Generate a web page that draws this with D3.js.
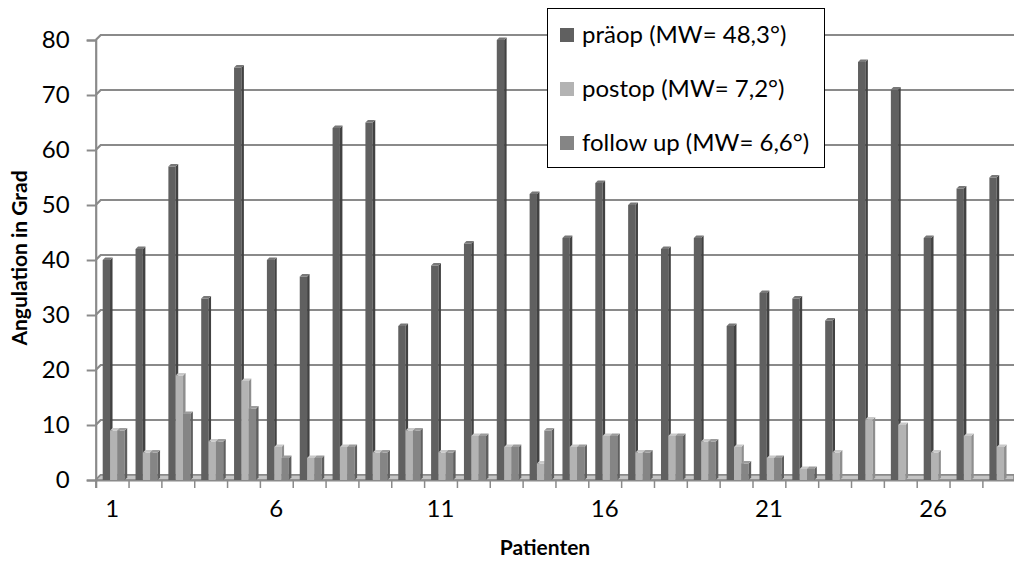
<!DOCTYPE html>
<html>
<head>
<meta charset="utf-8">
<script src="https://cdn.jsdelivr.net/npm/d3@7"></script>
<style>
  body { margin: 0; background: #fff; }
  svg { display: block; font-family: Lato, "Open Sans", sans-serif; }
</style>
</head>
<body>
<svg id="chart" width="1014" height="561"></svg>
<script>
// data (angle in degrees per patient)
const patients = d3.range(1, 29);
const praeop   = [40, 42, 57, 33, 75, 40, 37, 64, 65, 28, 39, 43, 80, 52, 44, 54, 50, 42, 44, 28, 34, 33, 29, 76, 71, 44, 53, 55];
const postop   = [9, 5, 19, 7, 18, 6, 4, 6, 5, 9, 5, 8, 6, 3, 6, 8, 5, 8, 7, 6, 4, 2, 5, 11, 10, 5, 8, 6];
const followUp = [9, 5, 12, 7, 13, 4, 4, 6, 5, 9, 5, 8, 6, 9, 6, 8, 5, 8, 7, 3, 4, 2, null, null, null, null, null, null];
const seriesNames = ["präop (MW= 48,3°)", "postop (MW= 7,2°)", "follow up (MW= 6,6°)"];
const yTicks = [0, 10, 20, 30, 40, 50, 60, 70, 80];
const xLabels = [1, 6, 11, 16, 21, 26];

const series = [praeop, postop, followUp];
// front, side, top colours for each series
const colors = [
  ["#606060", "#424242", "#787878"],
  ["#b3b3b3", "#8e8e8e", "#c9c9c9"],
  ["#858585", "#5f5f5f", "#9c9c9c"]
];

const svg = d3.select("#chart");
const left = 95.7, step = 32.84;
const depth = 5;       // offset of the back wall
const bd = 2.5;        // depth of a bar

let y = d3.scaleLinear().domain([0, 80]).range([480, 40]);
let xLin = d3.scaleLinear().domain([0, 28]).range([left, left + 28 * step]);
let xBand = d3.scaleBand().domain(patients).range([left, left + 28 * step]).padding(0);
let xSeries = d3.scaleBand().domain([0, 1, 2]).range([7, 29]).padding(0);

// back wall gridlines with the short slanted part on the left wall
let grid = svg.append("g");
yTicks.forEach(v => {
  grid.append("path")
    .attr("d", `M${left},${y(v)} L${left + depth},${y(v) - depth} L1014,${y(v) - depth}`)
    .attr("fill", "none")
    .attr("stroke", "#8a8a8a")
    .attr("stroke-width", 2.2);
});

// floor
svg.append("path")
  .attr("d", `M${left},480 L${left + depth},${480 - depth} L1014,${480 - depth} L1014,480 Z`)
  .attr("fill", "#c4c4c4")
  .attr("stroke", "#8a8a8a")
  .attr("stroke-width", 1.5);

// y axis
let yAxis = svg.append("g")
  .attr("transform", `translate(${left},0)`)
  .call(d3.axisLeft(y).tickValues(yTicks).tickSize(9).tickPadding(17));
yAxis.select(".domain").attr("stroke", "#8a8a8a").attr("stroke-width", 2.2);
yAxis.selectAll(".tick line").attr("stroke", "#8a8a8a").attr("stroke-width", 2);
yAxis.selectAll(".tick text").attr("font-size", 24).attr("fill", "#000")
  .attr("font-family", "Lato, sans-serif");

// x axis: ticks between categories, labels on some categories
let xTickAxis = svg.append("g")
  .attr("transform", "translate(0,480)")
  .call(d3.axisBottom(xLin).tickValues(d3.range(0, 29)).tickSize(8).tickFormat(""));
xTickAxis.select(".domain").attr("stroke", "#8a8a8a").attr("stroke-width", 2.2);
xTickAxis.selectAll(".tick line").attr("stroke", "#8a8a8a").attr("stroke-width", 1.5);

let xLabelAxis = svg.append("g")
  .attr("transform", "translate(0,480)")
  .call(d3.axisBottom(xBand).tickValues(xLabels).tickSize(0).tickPadding(20));
xLabelAxis.select(".domain").remove();
xLabelAxis.selectAll(".tick text").attr("font-size", 24).attr("fill", "#000")
  .attr("font-family", "Lato, sans-serif");

// 3d columns, drawn left to right so the right bar covers the side of the left one
let bars = svg.append("g");
patients.forEach((p, i) => {
  series.forEach((vals, s) => {
    let v = vals[i];
    if (v === null) return;
    let x0 = xBand(p) + xSeries(s);
    let w = xSeries.bandwidth();
    let yt = y(v), yb = y(0);
    let g = bars.append("g");
    g.append("rect")
      .attr("x", x0).attr("y", yt)
      .attr("width", w).attr("height", yb - yt)
      .attr("fill", colors[s][0]);
    g.append("path")
      .attr("d", `M${x0 + w},${yt} L${x0 + w + bd},${yt - bd} L${x0 + w + bd},${yb - bd} L${x0 + w},${yb} Z`)
      .attr("fill", colors[s][1]);
    g.append("path")
      .attr("d", `M${x0},${yt} L${x0 + bd},${yt - bd} L${x0 + w + bd},${yt - bd} L${x0 + w},${yt} Z`)
      .attr("fill", colors[s][2]);
  });
});

// legend
let legend = svg.append("g");
legend.append("rect")
  .attr("x", 547.5).attr("y", 8.5)
  .attr("width", 277).attr("height", 159)
  .attr("fill", "#fff").attr("stroke", "#000").attr("stroke-width", 1);
seriesNames.forEach((name, s) => {
  let cy = 35 + s * 54;
  legend.append("rect")
    .attr("x", 560).attr("y", cy - 7)
    .attr("width", 14).attr("height", 14)
    .attr("fill", colors[s][0]);
  legend.append("text")
    .attr("x", 582).attr("y", cy + 8)
    .attr("font-size", 24)
    .text(name);
});

// axis titles
svg.append("text")
  .attr("transform", "translate(27,258) rotate(-90)")
  .attr("text-anchor", "middle")
  .attr("font-size", 21).attr("font-weight", "bold")
  .text("Angulation in Grad");

svg.append("text")
  .attr("x", 545).attr("y", 555)
  .attr("text-anchor", "middle")
  .attr("font-size", 21).attr("font-weight", "bold")
  .text("Patienten");
</script>
</body>
</html>
